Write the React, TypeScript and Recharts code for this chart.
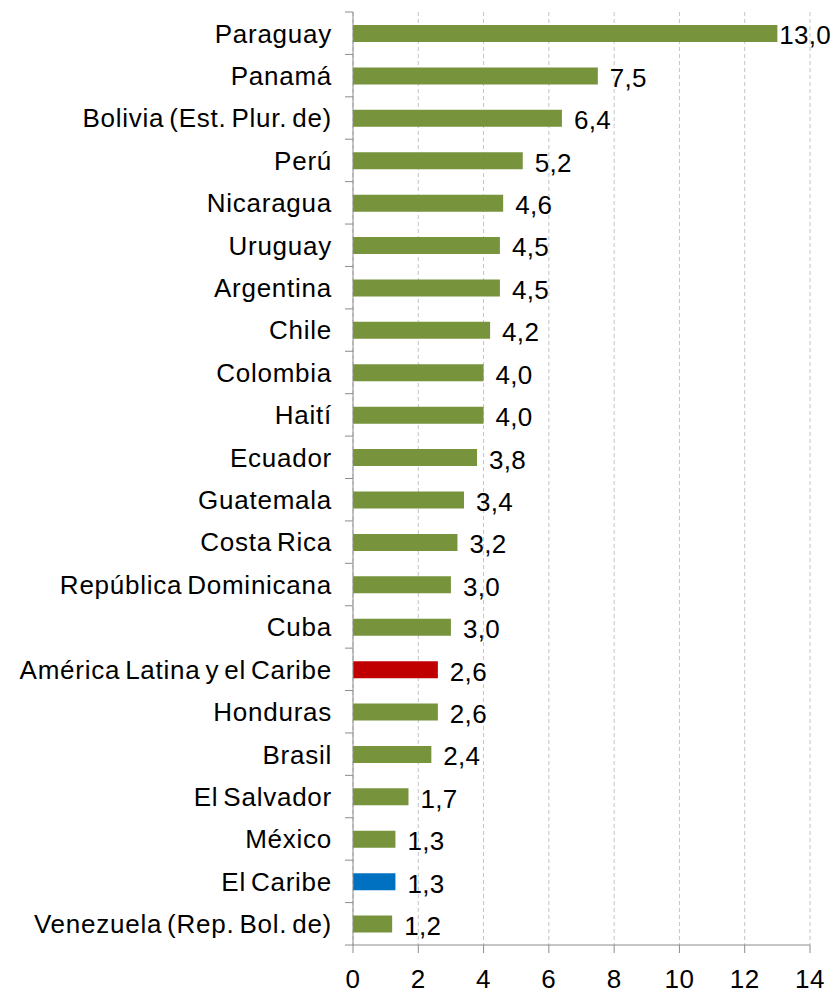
import React from "react";
import { BarChart, Bar, XAxis, YAxis, CartesianGrid, Cell, LabelList } from "recharts";

const categories = [
  "Paraguay",
  "Panamá",
  "Bolivia (Est. Plur. de)",
  "Perú",
  "Nicaragua",
  "Uruguay",
  "Argentina",
  "Chile",
  "Colombia",
  "Haití",
  "Ecuador",
  "Guatemala",
  "Costa Rica",
  "República Dominicana",
  "Cuba",
  "América Latina y el Caribe",
  "Honduras",
  "Brasil",
  "El Salvador",
  "México",
  "El Caribe",
  "Venezuela (Rep. Bol. de)",
];
const values = [13.0, 7.5, 6.4, 5.2, 4.6, 4.5, 4.5, 4.2, 4.0, 4.0, 3.8, 3.4, 3.2, 3.0, 3.0, 2.6, 2.6, 2.4, 1.7, 1.3, 1.3, 1.2];
const xTicks = [0, 2, 4, 6, 8, 10, 12, 14];
const regionLatAm = "América Latina y el Caribe";
const regionCaribbean = "El Caribe";

const data = categories.map((name, i) => ({ name, value: values[i] }));

const W = 833;
const H = 994;
const MARGIN = { top: 12, right: 23, bottom: 0, left: 0 };
const Y_W = 353;
const X_H = 49;
const PLOT_H = H - MARGIN.top - MARGIN.bottom - X_H;
const BAND = PLOT_H / categories.length;
const FONT = "'Liberation Sans', Arial, sans-serif";
const FS = 26;
const AXIS_COLOR = "#8c8c8c";

const colorFor = (name: string) =>
  name === regionLatAm ? "#C00000" : name === regionCaribbean ? "#0070C0" : "#77933C";

const fmt = (v: number) => v.toFixed(1).replace(".", ",");

const YTick = (props: any) => {
  const { y, payload, index } = props;
  const ax = MARGIN.left + Y_W;
  return (
    <g>
      <text
        x={ax - 21}
        y={y}
        dy="0.36em"
        textAnchor="end"
        fontFamily={FONT}
        fontSize={FS}
        fill="#000"
        letterSpacing={0.75}
        wordSpacing={-3}
      >
        {payload.value}
      </text>
      <line x1={ax - 8} x2={ax} y1={y - BAND / 2} y2={y - BAND / 2} stroke={AXIS_COLOR} strokeWidth={1} />
      {index === categories.length - 1 && (
        <line x1={ax - 8} x2={ax} y1={y + BAND / 2} y2={y + BAND / 2} stroke={AXIS_COLOR} strokeWidth={1} />
      )}
    </g>
  );
};

const BarLabel = (props: any) => {
  const { x, y, width, height, value } = props;
  const txt = fmt(Number(value));
  const estW = txt.length * 13;
  let tx = x + width + 12;
  let anchor: "start" | "end" = "start";
  if (tx + estW > W - 2) {
    tx = W - 2;
    anchor = "end";
  }
  return (
    <text
      x={tx}
      y={y + height / 2}
      dy="0.42em"
      textAnchor={anchor}
      fontFamily={FONT}
      fontSize={FS}
      fill="#000"
      letterSpacing={0.3}
    >
      {txt}
    </text>
  );
};

export default function App() {
  return (
    <div style={{ position: "absolute", left: 0, top: 0, width: W, height: H, background: "#fff" }}>
      <BarChart width={W} height={H} data={data} layout="vertical" margin={MARGIN}>
        <CartesianGrid horizontal={false} vertical={true} stroke="#c4c4c4" strokeDasharray="4 3" />
        <XAxis
          type="number"
          domain={[0, 14]}
          ticks={xTicks}
          height={X_H}
          tickSize={8}
          tickMargin={17}
          axisLine={{ stroke: AXIS_COLOR }}
          tickLine={{ stroke: AXIS_COLOR }}
          tick={{ fontFamily: FONT, fontSize: FS, fill: "#000", letterSpacing: 0.5 }}
          interval={0}
        />
        <YAxis
          type="category"
          dataKey="name"
          width={Y_W}
          tickLine={false}
          axisLine={{ stroke: AXIS_COLOR }}
          tick={<YTick />}
          interval={0}
        />
        <Bar dataKey="value" barSize={17} isAnimationActive={false}>
          {data.map((d) => (
            <Cell key={d.name} fill={colorFor(d.name)} />
          ))}
          <LabelList dataKey="value" content={<BarLabel />} />
        </Bar>
      </BarChart>
    </div>
  );
}
